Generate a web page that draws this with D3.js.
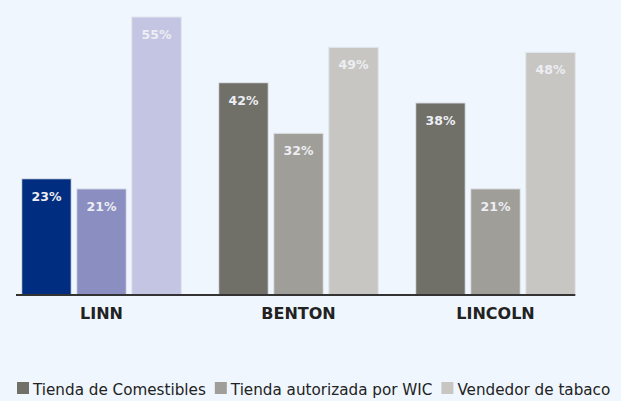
<!DOCTYPE html>
<html>
<head>
<meta charset="utf-8">
<script src="https://cdn.jsdelivr.net/npm/d3@7"></script>
<style>
  html, body { margin: 0; padding: 0; background: #eff6fd; }
  svg { display: block; }
</style>
</head>
<body>
<div id="chart"></div>
<script>
// counties along the x axis
const counties = ["LINN", "BENTON", "LINCOLN"];
// store types (legend order)
const storeTypes = ["Tienda de Comestibles", "Tienda autorizada por WIC", "Vendedor de tabaco"];
// percentages per county, in storeTypes order
const linnValues = [23, 21, 55];
const bentonValues = [42, 32, 49];
const lincolnValues = [38, 21, 48];

const valuesByCounty = { LINN: linnValues, BENTON: bentonValues, LINCOLN: lincolnValues };

// LINN uses blue shades, the others gray shades
const blueColors = ["#002d7f", "#8a8ec0", "#c4c5e2"];
const grayColors = ["#706f68", "#a09e98", "#c8c6c2"];

const width = 621, height = 401;
const svg = d3.select("#chart").append("svg")
  .attr("width", width)
  .attr("height", height);

const x0 = d3.scaleBand()
  .domain(counties)
  .range([3, 594])
  .paddingInner(0.19)
  .paddingOuter(0.095);

const x1 = d3.scaleBand()
  .domain(storeTypes)
  .range([0, x0.bandwidth()])
  .paddingInner(0.1);

const y = d3.scaleLinear()
  .domain([0, 55])
  .range([295, 17]);

// Bars
const groups = svg.selectAll("g.county")
  .data(counties)
  .enter()
  .append("g")
  .attr("class", "county")
  .attr("transform", d => `translate(${x0(d)},0)`);

groups.selectAll("rect")
  .data(c => storeTypes.map((t, i) => ({ county: c, type: t, i, value: valuesByCounty[c][i] })))
  .enter()
  .append("rect")
  .attr("x", d => x1(d.type))
  .attr("y", d => y(d.value))
  .attr("width", x1.bandwidth())
  .attr("height", d => y(0) - y(d.value))
  .attr("fill", d => (d.county === "LINN" ? blueColors : grayColors)[d.i])
  .attr("stroke", "#e2e6ee")
  .attr("stroke-width", 1);

groups.selectAll("text.value")
  .data(c => storeTypes.map((t, i) => ({ type: t, value: valuesByCounty[c][i] })))
  .enter()
  .append("text")
  .attr("class", "value")
  .attr("x", d => x1(d.type) + x1.bandwidth() / 2)
  .attr("y", d => y(d.value) + 22)
  .attr("text-anchor", "middle")
  .attr("font-family", "DejaVu Sans, Verdana, sans-serif")
  .attr("font-weight", "bold")
  .attr("font-size", "12.5px")
  .attr("fill", "#eceef4")
  .text(d => d.value + "%");

// Baseline
svg.append("line")
  .attr("x1", 16)
  .attr("x2", x0("LINCOLN") + x0.bandwidth())
  .attr("y1", y(0))
  .attr("y2", y(0))
  .attr("stroke", "#333")
  .attr("stroke-width", 2);

// County labels
svg.selectAll("text.county")
  .data(counties)
  .enter()
  .append("text")
  .attr("class", "county")
  .attr("x", d => x0(d) + x0.bandwidth() / 2)
  .attr("y", 319)
  .attr("text-anchor", "middle")
  .attr("font-family", "DejaVu Sans, Verdana, sans-serif")
  .attr("font-weight", "bold")
  .attr("font-size", "16px")
  .attr("fill", "#222")
  .text(d => d);

// Legend
const legend = svg.append("g").attr("class", "legend");
let lx = 17;
storeTypes.forEach((t, i) => {
  legend.append("rect")
    .attr("x", lx)
    .attr("y", 382)
    .attr("width", 12)
    .attr("height", 12)
    .attr("fill", grayColors[i]);
  const txt = legend.append("text")
    .attr("x", lx + 16)
    .attr("y", 395)
    .attr("font-family", "DejaVu Sans, Verdana, sans-serif")
    .attr("font-size", "15.2px")
    .attr("fill", "#222")
    .text(t);
  lx += 16 + txt.node().getComputedTextLength() + 9;
});
</script>
</body>
</html>
